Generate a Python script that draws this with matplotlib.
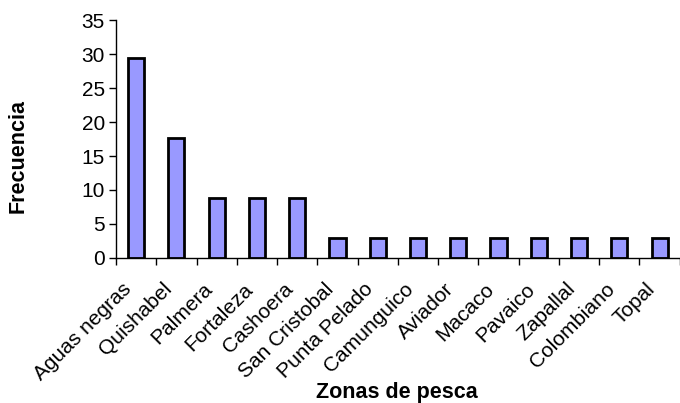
import numpy as np
import matplotlib
matplotlib.use("Agg")
import matplotlib.pyplot as plt
import matplotlib.transforms as mtransforms

plt.rcParams["font.family"] = ["Liberation Sans", "DejaVu Sans"]

zonas = ["Aguas negras", "Quishabel", "Palmera", "Fortaleza", "Cashoera",
         "San Cristobal", "Punta Pelado", "Camunguico", "Aviador", "Macaco",
         "Pavaico", "Zapallal", "Colombiano", "Topal"]
frecuencia = [29.4, 17.6, 8.8, 8.8, 8.8, 2.9, 2.9, 2.9, 2.9, 2.9, 2.9, 2.9, 2.9, 2.9]
yticks = [0, 5, 10, 15, 20, 25, 30, 35]

fig = plt.figure(figsize=(6.8, 4.03), dpi=100)
ax = fig.add_axes([0.1706, 0.360, 0.829, 0.590])

x = np.arange(len(zonas))
ax.bar(x, frecuencia, width=0.4, color="#9999FF", edgecolor="black", linewidth=2)

ax.set_xlim(-0.5, len(zonas) - 0.5)
ax.set_ylim(0, 35)
ax.set_yticks(yticks)
ax.set_xticks(x)
ax.set_xticklabels(zonas, rotation=45, ha="right", rotation_mode="anchor")
ax.set_xticks(np.arange(len(zonas) + 1) - 0.5, minor=True)
ax.tick_params(axis="x", which="major", length=0, pad=9, labelsize=15)
ax.tick_params(axis="x", which="minor", length=5, width=1, color="black")
ax.tick_params(axis="y", length=5, width=1, labelsize=15, pad=3)

# nudge the rotated labels down-left like the original
shift = mtransforms.ScaledTranslation(-0.14, -0.09, fig.dpi_scale_trans)
for lab in ax.get_xticklabels():
    lab.set_transform(lab.get_transform() + shift)

for s in ["top", "right"]:
    ax.spines[s].set_visible(False)
ax.spines["left"].set_linewidth(1)
ax.spines["bottom"].set_linewidth(1)

fig.text(0.027, 0.613, "Frecuencia", fontsize=15.5, fontweight="bold",
         ha="center", va="center", rotation=90)
fig.text(0.584, 0.027, "Zonas de pesca", fontsize=15.5, fontweight="bold",
         ha="center", va="center")

fig.savefig("out.png", dpi=100)
